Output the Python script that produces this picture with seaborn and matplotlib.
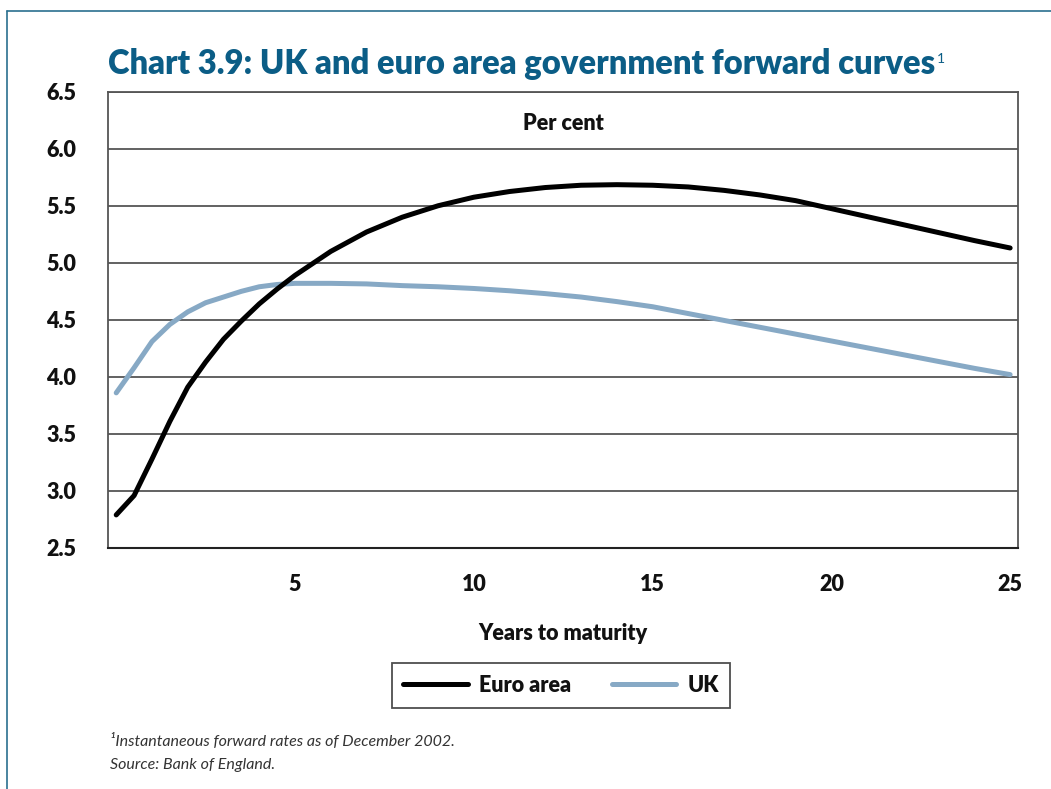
import matplotlib
matplotlib.use("Agg")
import matplotlib.pyplot as plt
import seaborn as sns
import pandas as pd
from matplotlib.lines import Line2D

# ---- data ----
years = [0, 0.5, 1.0, 1.5, 2.0, 2.5, 3.0, 3.5, 4.0, 4.5, 5.0, 6, 7, 8, 9, 10,
         11, 12, 13, 14, 15, 16, 17, 18, 19, 20, 21, 22, 23, 24, 25]
euro_area = [2.79, 2.96, 3.28, 3.61, 3.91, 4.13, 4.33, 4.49, 4.64, 4.77, 4.89,
             5.10, 5.27, 5.40, 5.50, 5.575, 5.625, 5.66, 5.68, 5.685, 5.68,
             5.665, 5.635, 5.595, 5.545, 5.475, 5.405, 5.335, 5.265, 5.195, 5.13]
uk = [3.86, 4.08, 4.31, 4.46, 4.57, 4.65, 4.70, 4.75, 4.79, 4.81, 4.82,
      4.82, 4.815, 4.80, 4.79, 4.775, 4.755, 4.73, 4.70, 4.66, 4.615,
      4.555, 4.495, 4.435, 4.375, 4.315, 4.255, 4.195, 4.135, 4.075, 4.02]
series_names = ["Euro area", "UK"]
series_colors = ["#000000", "#87a9c5"]
yticks = [2.5, 3.0, 3.5, 4.0, 4.5, 5.0, 5.5, 6.0, 6.5]
xticks = [5, 10, 15, 20, 25]

title = "Chart 3.9: UK and euro area government forward curves"
footnote1 = "Instantaneous forward rates as of December 2002."
footnote2 = "Source: Bank of England."

df = pd.concat([
    pd.DataFrame({"Years": years, "Rate": euro_area, "Series": series_names[0]}),
    pd.DataFrame({"Years": years, "Rate": uk, "Series": series_names[1]}),
])

sns.set_theme(style="white")
plt.rcParams["font.family"] = ["Lato", "DejaVu Sans"]

fig = plt.figure(figsize=(10.51, 7.89), dpi=100)
ax = fig.add_axes([108/1051, 1-548/789, (1018-108)/1051, (548-91.7)/789])

sns.lineplot(data=df, x="Years", y="Rate", hue="Series",
             palette=dict(zip(series_names, series_colors)),
             linewidth=3.6, ax=ax, legend=False, solid_capstyle="round",
             zorder=3)
for ln in ax.lines:
    if ln.get_color() in ("#000000", (0, 0, 0, 1)):
        ln.set_zorder(4)

ax.set_xlim(-0.23, 25.22)
ax.set_ylim(2.5, 6.5)
ax.set_yticks(yticks)
ax.set_yticklabels([f"{v:.1f}" for v in yticks])
ax.set_xticks(xticks)
ax.set_xticklabels([str(v) for v in xticks])

ax.yaxis.grid(True, color="#555555", linewidth=1.3)
ax.xaxis.grid(False)
ax.tick_params(axis="y", direction="out", length=17, width=1.3, color="#555555",
               pad=6, labelsize=15.5)
ax.tick_params(axis="x", direction="out", length=7, width=1.3, color="#555555",
               pad=12, labelsize=15.5)
for lab in ax.get_xticklabels() + ax.get_yticklabels():
    lab.set_fontweight("heavy")
    lab.set_color("#111111")

for side in ["left", "right", "top"]:
    ax.spines[side].set_color("#555555")
    ax.spines[side].set_linewidth(1.3)
ax.spines["bottom"].set_color("#222222")
ax.spines["bottom"].set_linewidth(1.5)

ax.set_xlabel("Years to maturity", fontsize=15.5, fontweight="heavy",
              color="#111111", labelpad=20)
ax.set_ylabel("")
ax.text(0.5, 0.93, "Per cent", transform=ax.transAxes, ha="center", va="center",
        fontsize=15.5, fontweight="heavy", color="#111111")

# legend
handles = [Line2D([0], [0], color=c, lw=3.6, solid_capstyle="round")
           for c in series_colors]
leg = fig.legend(handles, series_names, loc="center",
                 bbox_to_anchor=(561/1051, 1-685.5/789), ncol=2,
                 frameon=True, fancybox=False, edgecolor="#222222",
                 fontsize=15.5, handlelength=3.0, columnspacing=1.9,
                 borderpad=0.55, handletextpad=0.5, borderaxespad=0)
leg.get_frame().set_linewidth(1.3)
for t in leg.get_texts():
    t.set_fontweight("heavy")
    t.set_color("#111111")

# title
title_color = "#0b5d86"
ttl = fig.text(108/1051, 1-64/789, title, ha="left", va="center",
               fontsize=23.6, fontweight="heavy", color=title_color)
fig.canvas.draw()
bb = ttl.get_window_extent(renderer=fig.canvas.get_renderer())
fig.text((bb.x1 + 2)/1051, (bb.y1 - 5)/789, "1", ha="left", va="top",
         fontsize=10, color=title_color)

# footnotes
fig.text(110/1051, 1-741/789, "\u00b9" + footnote1, ha="left", va="center",
         fontsize=11.5, style="italic", fontweight="normal", color="#333333")
fig.text(110/1051, 1-765/789, footnote2, ha="left", va="center",
         fontsize=11.5, style="italic", fontweight="normal", color="#333333")

# page border (top and left)
border_color = "#2a6f8f"
fig.add_artist(Line2D([7/1051, 1.0], [1-11/789, 1-11/789], color=border_color,
                      lw=1.2, transform=fig.transFigure))
fig.add_artist(Line2D([7/1051, 7/1051], [0, 1-11/789], color=border_color,
                      lw=1.2, transform=fig.transFigure))

fig.savefig("out.png", dpi=100)
